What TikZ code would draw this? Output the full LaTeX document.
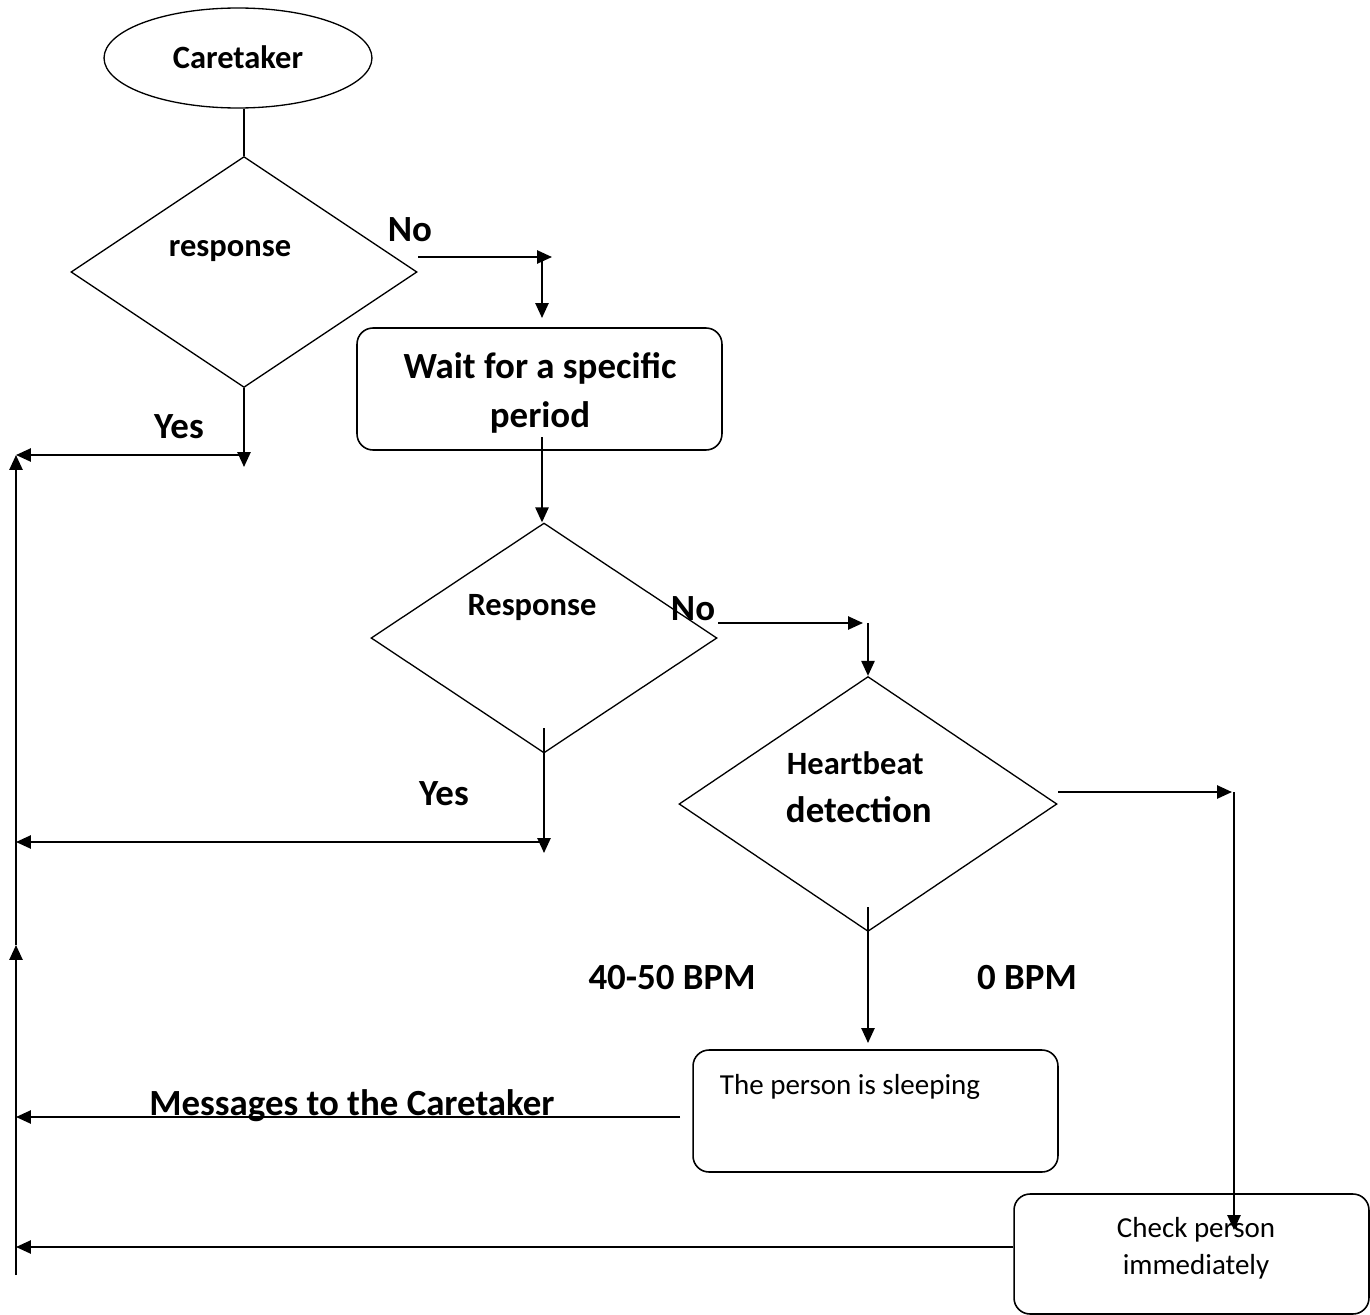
\documentclass[tikz,border=0pt]{standalone}
\usepackage{fontspec}
\setmainfont{Carlito}
\usepackage{tikz}
\usetikzlibrary{shapes.geometric, arrows.meta, positioning, calc}

\begin{document}
\begin{tikzpicture}[x=0.02cm, y=-0.02cm, line width=1.1pt,
    arr/.style={-{Triangle[length=8.5pt,width=7.5pt]}},
    decision/.style={draw, diamond, inner sep=0pt, line width=0.75pt},
    procbox/.style={draw, rectangle, rounded corners=0.32cm, inner sep=0pt, line width=0.9pt},
    bigtxt/.style={font=\fontsize{21}{25}\selectfont\bfseries, inner sep=0pt, anchor=base},
    midtxt/.style={font=\fontsize{18.5}{22}\selectfont\bfseries, inner sep=0pt, anchor=base},
    smalltxt/.style={font=\fontsize{16.5}{20}\selectfont, inner sep=0pt, anchor=base}]
    \useasboundingbox (0,0) rectangle (1370,1315);

    % Caretaker
    \node[draw, ellipse, minimum width=5.36cm, minimum height=2cm, line width=0.75pt] (care) at (238,58) {};
    \node[midtxt] (careTxt) at (238,68) {Caretaker};

    % Prima risposta
    \node[decision, minimum width=6.92cm, minimum height=4.62cm] (resp1) at (244,272) {};
    \node[midtxt] (resp1Txt) at (230,256) {response};
    \node[bigtxt] (no1Txt) at (410,241) {No};
    \node[bigtxt] (yes1Txt) at (179,438) {Yes};

    % Attesa
    \node[procbox, minimum width=7.3cm, minimum height=2.44cm] (wait) at (539.5,389) {};
    \node[bigtxt] (waitTxtA) at (540,378) {Wait for a specific};
    \node[bigtxt] (waitTxtB) at (540,427) {period};

    % Seconda risposta
    \node[decision, minimum width=6.92cm, minimum height=4.6cm] (resp2) at (544,638) {};
    \node[midtxt] (resp2Txt) at (532,615) {Response};
    \node[bigtxt] (no2Txt) at (693,620) {No};
    \node[bigtxt] (yes2Txt) at (444,805) {Yes};

    % Battito
    \node[decision, minimum width=7.56cm, minimum height=5.1cm] (heart) at (868,804) {};
    \node[midtxt, anchor=base west] (heartTxtA) at (786,774) {Heartbeat};
    \node[bigtxt, anchor=base west] (heartTxtB) at (785,822) {detection};
    \node[bigtxt] (bpmLowTxt) at (672,989) {40-50 BPM};
    \node[bigtxt] (bpmZeroTxt) at (1027,989) {0 BPM};

    % Esiti
    \node[procbox, minimum width=7.3cm, minimum height=2.44cm] (sleep) at (875.5,1111) {};
    \node[smalltxt, anchor=base west] (sleepTxt) at (719,1094) {The person is sleeping};
    \node[procbox, minimum width=7.1cm, minimum height=2.4cm] (check) at (1191.5,1254) {};
    \node[smalltxt] (checkTxtA) at (1196,1237) {Check person};
    \node[smalltxt] (checkTxtB) at (1196,1274) {immediately};
    \node[bigtxt] (msgTxt) at (352,1115) {Messages to the Caretaker};

    % Punti di appoggio
    \coordinate (topL) at (16,455);
    \coordinate (midL) at (16,945);
    \coordinate (botL) at (16,1275);
    \coordinate (yesL) at (16,842);
    \coordinate (msgL) at (16,1117);
    \coordinate (chkL) at (16,1247);
    \coordinate (yes1End) at (244,467);
    \coordinate (no1A) at (418,257);
    \coordinate (no1B) at (552,257);
    \coordinate (no1C) at (542,257);
    \coordinate (no1D) at (542,318);
    \coordinate (waitOut) at (542,437);
    \coordinate (no2A) at (718,623);
    \coordinate (no2B) at (863,623);
    \coordinate (yes2A) at (544,728);
    \coordinate (yes2B) at (544,853);
    \coordinate (heartA) at (1058,792);
    \coordinate (heartB) at (1232,792);
    \coordinate (heartC) at (1234,792);
    \coordinate (heartD) at (1234,1230);
    \coordinate (heartIn) at (868,907);
    \coordinate (sleepIn) at (868,1043);
    \coordinate (sleepOut) at (680,1117);

    % Collegamenti
    \draw (resp1.north |- care.south) -- (resp1.north);
    \draw[arr] (resp1.south) -- (yes1End);
    \draw[arr] (resp1.south |- topL) -- (topL);
    \draw[arr] (no1A) -- (no1B);
    \draw[arr] (no1C) -- (no1D);
    \draw[arr] (waitOut) -- (waitOut |- resp2.north);
    \draw[arr] (no2A) -- (no2B);
    \draw[arr] (heart.north |- no2A) -- (heart.north);
    \draw[arr] (yes2A) -- (yes2B);
    \draw[arr] (resp2.south |- yesL) -- (yesL);
    \draw[arr] (heartA) -- (heartB);
    \draw[arr] (heartC) -- (heartD);
    \draw[arr] (heartIn) -- (sleepIn);
    \draw[arr] (sleepOut) -- (msgL);
    \draw[arr] (check.west |- chkL) -- (chkL);
    \draw[arr] (botL) -- (midL);
    \draw[arr] (midL) -- (topL);
\end{tikzpicture}
\end{document}
